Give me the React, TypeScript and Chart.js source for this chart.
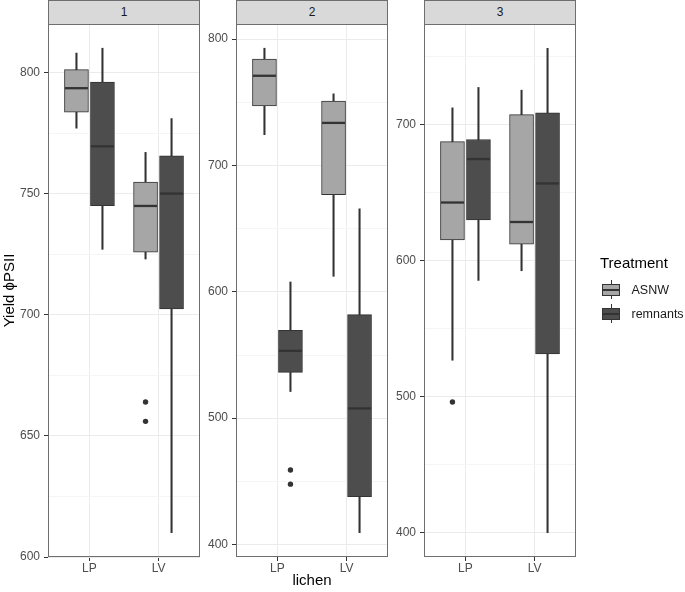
import React, { useEffect, useRef } from 'react';
import { Chart, registerables } from 'chart.js';

Chart.register(...registerables);

// ---------------- data ----------------
const CATEGORIES = ['LP', 'LV'];
const TREATMENTS = ['ASNW', 'remnants'];
const PANELS = ['1', '2', '3'];

// five-number summaries per category: [lower whisker, Q1, median, Q3, upper whisker]
const P1_ASNW = [[777, 783.6, 793.5, 801.2, 808], [723, 725.8, 744.9, 754.7, 767]];
const P1_REMNANTS = [[727, 745, 769.5, 796, 810], [610, 702.4, 750, 765.6, 781]];
const P1_ASNW_OUT = [[], [664, 656]];
const P1_REMNANTS_OUT = [[], []];

const P2_ASNW = [[724.4, 747.2, 771, 784.3, 792.8], [612.3, 676.9, 733.7, 751, 756.7]];
const P2_REMNANTS = [[521.1, 536.3, 553.3, 569.5, 607.8], [409.3, 437.9, 507.7, 582, 665.6]];
const P2_ASNW_OUT = [[], []];
const P2_REMNANTS_OUT = [[459, 447.8], []];

const P3_ASNW = [[526.7, 615, 642.5, 687.2, 712], [592.4, 612, 628.2, 707, 725]];
const P3_REMNANTS = [[585.3, 629.8, 674.4, 688.8, 727], [400, 531.4, 656.5, 708.3, 755.8]];
const P3_ASNW_OUT = [[496], []];
const P3_REMNANTS_OUT = [[], []];

const P1_TICKS = [600, 650, 700, 750, 800];
const P2_TICKS = [400, 500, 600, 700, 800];
const P3_TICKS = [400, 500, 600, 700];

const Y_TITLE = 'Yield \u03D5PSII';
const X_TITLE = 'lichen';
const LEGEND_TITLE = 'Treatment';

// ---------------- style ----------------
const FONT = '"Liberation Sans", Arial, Helvetica, sans-serif';
const FILLS = ['#A6A6A6', '#4D4D4D'];
const LINE = '#333333';
const BORDER = '#6E6E6E';
const GRID_MAJOR = '#EBEBEB';
const GRID_MINOR = '#F5F5F5';
const TICK_TEXT = '#4D4D4D';
const W = 685;
const H = 592;
const SLOT = 26;
const BOX_W = 24;
const WHISKER_W = 1.4;

function yRange(sets: number[][][], outs: number[][][]) {
  const vals: number[] = [];
  sets.forEach((s) => s.forEach((f) => { vals.push(f[0], f[4]); }));
  outs.forEach((o) => o.forEach((a) => a.forEach((v) => vals.push(v))));
  const lo = Math.min(...vals);
  const hi = Math.max(...vals);
  const pad = (hi - lo) * 0.05;
  return [lo - pad, hi + pad];
}

function allTicks(major: number[], lo: number, hi: number) {
  const step = major[1] - major[0];
  const out: number[] = [];
  const first = major[0] - step / 2;
  for (let v = first; v <= major[major.length - 1] + step / 2 + 1e-9; v += step / 2) {
    if (v >= lo - 1e-9 && v <= hi + 1e-9) out.push(v);
  }
  return out;
}

const extrasPlugin = {
  id: 'boxExtras',
  afterDatasetsDraw(chart: any) {
    const { ctx } = chart;
    const ys = chart.scales.y;
    ctx.save();
    ctx.beginPath();
    ctx.rect(chart.chartArea.left, chart.chartArea.top, chart.chartArea.right - chart.chartArea.left, chart.chartArea.bottom - chart.chartArea.top);
    ctx.clip();
    chart.data.datasets.forEach((ds: any, di: number) => {
      if (ds.role !== 'box') return;
      const meta = chart.getDatasetMeta(di);
      meta.data.forEach((el: any, i: number) => {
        const p = el.getProps(['x', 'width'], true);
        const my = ys.getPixelForValue(ds.summary[i][2]);
        ctx.strokeStyle = LINE;
        ctx.lineWidth = 2.3;
        ctx.beginPath();
        ctx.moveTo(p.x - p.width / 2 + 0.5, my);
        ctx.lineTo(p.x + p.width / 2 - 0.5, my);
        ctx.stroke();
        (ds.outliers[i] || []).forEach((v: number) => {
          ctx.fillStyle = LINE;
          ctx.beginPath();
          ctx.arc(p.x, ys.getPixelForValue(v), 2.7, 0, Math.PI * 2);
          ctx.fill();
        });
      });
    });
    ctx.restore();
  },
  afterDraw(chart: any) {
    const { ctx, chartArea: a } = chart;
    ctx.save();
    ctx.strokeStyle = BORDER;
    ctx.lineWidth = 1;
    ctx.strokeRect(a.left + 0.5, a.top + 0.5, a.right - a.left - 1, a.bottom - a.top - 1);
    ctx.restore();
  },
};

function makeConfig(
  asnw: number[][], rem: number[][], asnwOut: number[][], remOut: number[][],
  major: number[], padLeft: number, axisW: number, padRight: number, showTitle: boolean,
) {
  const [lo, hi] = yRange([asnw, rem], [asnwOut, remOut]);
  const ticks = allTicks(major, lo, hi);
  const isMajor = (v: number) => major.some((m) => Math.abs(m - v) < 1e-6);
  const sets = [asnw, rem];
  const outs = [asnwOut, remOut];
  const boxes = TREATMENTS.map((t, k) => ({
    type: 'bar',
    label: t,
    role: 'box',
    stack: t,
    summary: sets[k],
    outliers: outs[k],
    data: sets[k].map((s, i) => ({ x: i + 1, y: [s[1], s[3]] })),
    backgroundColor: FILLS[k],
    borderColor: LINE,
    borderWidth: 1,
    borderSkipped: false,
    barThickness: SLOT,
    maxBarThickness: BOX_W,
  }));
  const whiskers = TREATMENTS.map((t, k) => ({
    type: 'bar',
    label: t + ' whisker',
    role: 'whisker',
    stack: t,
    data: sets[k].map((s, i) => ({ x: i + 1, y: [s[0], s[4]] })),
    backgroundColor: LINE,
    borderWidth: 0,
    barThickness: SLOT,
    maxBarThickness: WHISKER_W,
  }));
  return {
    type: 'bar',
    data: { datasets: [...boxes, ...whiskers] },
    options: {
      responsive: false,
      animation: false,
      events: [],
      layout: { padding: { left: padLeft, right: padRight, top: 24, bottom: 5 } },
      plugins: { legend: { display: false }, tooltip: { enabled: false }, title: { display: false } },
      scales: {
        x: {
          type: 'linear',
          min: 0.4,
          max: CATEGORIES.length + 0.6,
          offset: false,
          afterBuildTicks: (s: any) => { s.ticks = CATEGORIES.map((_, i) => ({ value: i + 1 })); },
          afterFit: (s: any) => { s.height = 30; },
          border: { display: false },
          grid: { offset: false, color: GRID_MAJOR, lineWidth: 1, tickColor: LINE, tickLength: 4, tickWidth: 1 },
          ticks: {
            autoSkip: false, maxRotation: 0, padding: 0, color: TICK_TEXT,
            font: { family: FONT, size: 12 },
            callback: (v: number) => CATEGORIES[Math.round(v) - 1] ?? '',
          },
        },
        y: {
          type: 'linear',
          stacked: false,
          beginAtZero: false,
          min: lo,
          max: hi,
          afterBuildTicks: (s: any) => { s.ticks = ticks.map((v) => ({ value: v })); },
          afterFit: (s: any) => { s.width = axisW; },
          border: { display: false },
          grid: {
            color: (c: any) => (c.tick && isMajor(c.tick.value) ? GRID_MAJOR : GRID_MINOR),
            tickColor: (c: any) => (c.tick && isMajor(c.tick.value) ? LINE : 'rgba(0,0,0,0)'),
            tickLength: 4,
            tickWidth: 1,
            lineWidth: 1,
          },
          ticks: {
            autoSkip: false, padding: 4, color: TICK_TEXT,
            font: { family: FONT, size: 12 },
            callback: (v: number) => (isMajor(v) ? String(Math.round(v)) : ''),
          },
          title: {
            display: showTitle,
            text: Y_TITLE,
            color: '#000000',
            font: { family: FONT, size: 15 },
            padding: { top: 0.5, bottom: 0 },
          },
        },
      },
    },
    plugins: [extrasPlugin],
  };
}

const PANEL_LEFT = [48, 236, 424];
const PANEL_RIGHT = [200, 388, 576];

function LegendKey({ fill, top }: { fill: string; top: number }) {
  return (
    <div style={{ position: 'absolute', left: 599, top, width: 24, height: 24 }}>
      <div style={{ position: 'absolute', left: 11.5, top: 2.5, width: 1.3, height: 19, background: LINE }} />
      <div style={{ position: 'absolute', left: 3, top: 6, width: 18, height: 12.5, boxSizing: 'border-box', border: `1px solid ${LINE}`, background: fill }} />
      <div style={{ position: 'absolute', left: 3, top: 11.2, width: 18, height: 2, background: LINE }} />
    </div>
  );
}

export default function App() {
  const r1 = useRef<HTMLCanvasElement>(null);
  const r2 = useRef<HTMLCanvasElement>(null);
  const r3 = useRef<HTMLCanvasElement>(null);

  useEffect(() => {
    const charts = [
      new Chart(r1.current as any, makeConfig(P1_ASNW, P1_REMNANTS, P1_ASNW_OUT, P1_REMNANTS_OUT, P1_TICKS, 0, PANEL_LEFT[0], W - PANEL_RIGHT[0], true) as any),
      new Chart(r2.current as any, makeConfig(P2_ASNW, P2_REMNANTS, P2_ASNW_OUT, P2_REMNANTS_OUT, P2_TICKS, 200, PANEL_LEFT[1] - 200, W - PANEL_RIGHT[1], false) as any),
      new Chart(r3.current as any, makeConfig(P3_ASNW, P3_REMNANTS, P3_ASNW_OUT, P3_REMNANTS_OUT, P3_TICKS, 388, PANEL_LEFT[2] - 388, W - PANEL_RIGHT[2], false) as any),
    ];
    return () => charts.forEach((c) => c.destroy());
  }, []);

  const canvasStyle: React.CSSProperties = { position: 'absolute', left: 0, top: 0, width: W, height: H, display: 'block' };

  return (
    <div style={{ position: 'absolute', left: 0, top: 0, width: W, height: H, background: '#fff', fontFamily: FONT, overflow: 'hidden' }}>
      {PANELS.map((p, i) => (
        <div key={p} style={{
          position: 'absolute', left: PANEL_LEFT[i], top: 0, width: PANEL_RIGHT[i] - PANEL_LEFT[i], height: 25,
          boxSizing: 'border-box', border: `1px solid ${BORDER}`, background: '#D9D9D9',
          color: '#1A1A1A', fontSize: 12, lineHeight: '23px', textAlign: 'center',
        }}>{p}</div>
      ))}
      <canvas ref={r1} width={W} height={H} style={canvasStyle} />
      <canvas ref={r2} width={W} height={H} style={canvasStyle} />
      <canvas ref={r3} width={W} height={H} style={canvasStyle} />
      <div style={{ position: 'absolute', left: PANEL_LEFT[1], width: PANEL_RIGHT[1] - PANEL_LEFT[1], top: 571, textAlign: 'center', fontSize: 15, lineHeight: '18px', color: '#000' }}>{X_TITLE}</div>
      <div style={{ position: 'absolute', left: 600, top: 253.5, fontSize: 15, lineHeight: '18px', color: '#000' }}>{LEGEND_TITLE}</div>
      <LegendKey fill={FILLS[0]} top={277.5} />
      <LegendKey fill={FILLS[1]} top={301.5} />
      <div style={{ position: 'absolute', left: 631.5, top: 281.5, fontSize: 12.5, lineHeight: '16px', color: '#1A1A1A' }}>{TREATMENTS[0]}</div>
      <div style={{ position: 'absolute', left: 631.5, top: 305.5, fontSize: 12.5, lineHeight: '16px', color: '#1A1A1A' }}>{TREATMENTS[1]}</div>
    </div>
  );
}
